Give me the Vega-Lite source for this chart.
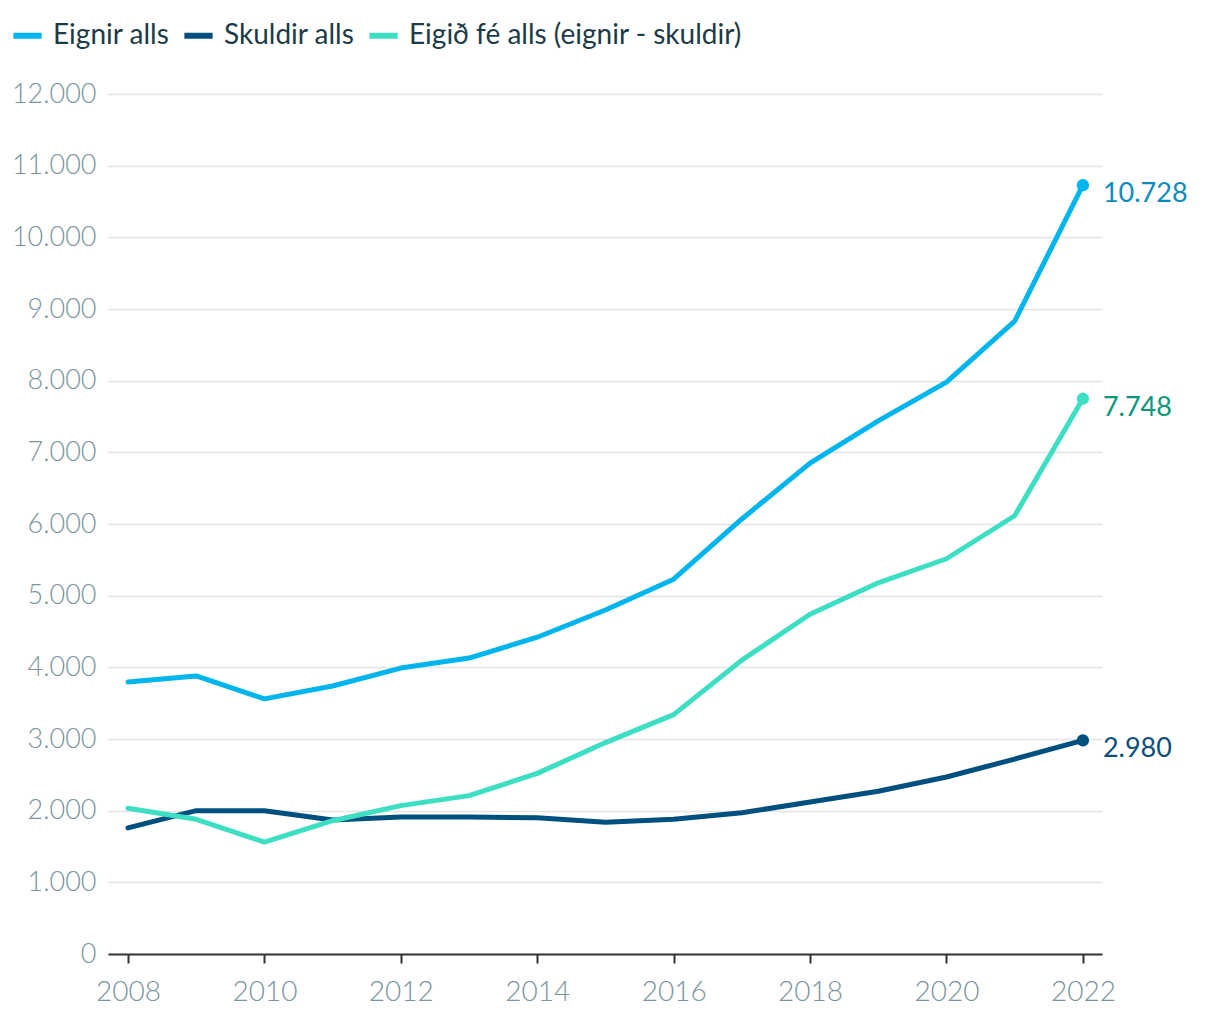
{
  "$schema": "https://vega.github.io/schema/vega-lite/v6.json",
  "width": 994,
  "height": 860,
  "autosize": {"type": "none"},
  "padding": {"left": 108, "top": 94, "right": 118, "bottom": 66},
  "background": "white",
  "config": {
    "locale": {"number": {"decimal": ",", "thousands": ".", "grouping": [3], "currency": ["", " kr."]}},
    "font": "Lato",
    "view": {"stroke": null}
  },
  "data": {
    "values": [
      {"year": 2008, "series": "Eignir alls", "value": 3795},
      {"year": 2009, "series": "Eignir alls", "value": 3880},
      {"year": 2010, "series": "Eignir alls", "value": 3560},
      {"year": 2011, "series": "Eignir alls", "value": 3740},
      {"year": 2012, "series": "Eignir alls", "value": 3990},
      {"year": 2013, "series": "Eignir alls", "value": 4130},
      {"year": 2014, "series": "Eignir alls", "value": 4420},
      {"year": 2015, "series": "Eignir alls", "value": 4800},
      {"year": 2016, "series": "Eignir alls", "value": 5230},
      {"year": 2017, "series": "Eignir alls", "value": 6070},
      {"year": 2018, "series": "Eignir alls", "value": 6850},
      {"year": 2019, "series": "Eignir alls", "value": 7440},
      {"year": 2020, "series": "Eignir alls", "value": 7980},
      {"year": 2021, "series": "Eignir alls", "value": 8830},
      {"year": 2022, "series": "Eignir alls", "value": 10728},
      {"year": 2008, "series": "Skuldir alls", "value": 1760},
      {"year": 2009, "series": "Skuldir alls", "value": 2000},
      {"year": 2010, "series": "Skuldir alls", "value": 2000},
      {"year": 2011, "series": "Skuldir alls", "value": 1870},
      {"year": 2012, "series": "Skuldir alls", "value": 1910},
      {"year": 2013, "series": "Skuldir alls", "value": 1910},
      {"year": 2014, "series": "Skuldir alls", "value": 1900},
      {"year": 2015, "series": "Skuldir alls", "value": 1840},
      {"year": 2016, "series": "Skuldir alls", "value": 1880},
      {"year": 2017, "series": "Skuldir alls", "value": 1970},
      {"year": 2018, "series": "Skuldir alls", "value": 2120},
      {"year": 2019, "series": "Skuldir alls", "value": 2270},
      {"year": 2020, "series": "Skuldir alls", "value": 2470},
      {"year": 2021, "series": "Skuldir alls", "value": 2720},
      {"year": 2022, "series": "Skuldir alls", "value": 2980},
      {"year": 2008, "series": "Eigið fé alls (eignir - skuldir)", "value": 2035},
      {"year": 2009, "series": "Eigið fé alls (eignir - skuldir)", "value": 1880},
      {"year": 2010, "series": "Eigið fé alls (eignir - skuldir)", "value": 1560},
      {"year": 2011, "series": "Eigið fé alls (eignir - skuldir)", "value": 1860},
      {"year": 2012, "series": "Eigið fé alls (eignir - skuldir)", "value": 2070},
      {"year": 2013, "series": "Eigið fé alls (eignir - skuldir)", "value": 2210},
      {"year": 2014, "series": "Eigið fé alls (eignir - skuldir)", "value": 2520},
      {"year": 2015, "series": "Eigið fé alls (eignir - skuldir)", "value": 2950},
      {"year": 2016, "series": "Eigið fé alls (eignir - skuldir)", "value": 3340},
      {"year": 2017, "series": "Eigið fé alls (eignir - skuldir)", "value": 4100},
      {"year": 2018, "series": "Eigið fé alls (eignir - skuldir)", "value": 4740},
      {"year": 2019, "series": "Eigið fé alls (eignir - skuldir)", "value": 5180},
      {"year": 2020, "series": "Eigið fé alls (eignir - skuldir)", "value": 5515},
      {"year": 2021, "series": "Eigið fé alls (eignir - skuldir)", "value": 6115},
      {"year": 2022, "series": "Eigið fé alls (eignir - skuldir)", "value": 7748}
    ]
  },
  "encoding": {
    "x": {
      "field": "year", "type": "quantitative",
      "scale": {"domain": [2007.707, 2022.28], "nice": false, "zero": false},
      "axis": {
        "title": null, "values": [2008, 2010, 2012, 2014, 2016, 2018, 2020, 2022],
        "format": "d", "grid": false,
        "domainColor": "#333333", "domainWidth": 2,
        "tickColor": "#333333", "tickWidth": 2, "tickSize": 9,
        "labelFont": "Lato", "labelFontWeight": 300, "labelFontSize": 28, "labelColor": "#7b959d",
        "labelPadding": 15
      }
    },
    "y": {
      "field": "value", "type": "quantitative",
      "scale": {"domain": [0, 12000], "nice": false},
      "axis": {
        "title": null, "values": [0, 1000, 2000, 3000, 4000, 5000, 6000, 7000, 8000, 9000, 10000, 11000, 12000],
        "format": ",d", "domain": false, "ticks": false,
        "gridColor": "#e4e4e4", "gridWidth": 1.5,
        "labelFont": "Lato", "labelFontWeight": 300, "labelFontSize": 27, "labelColor": "#7b959d",
        "labelPadding": 12
      }
    }
  },
  "layer": [
    {
      "mark": {"type": "line", "strokeWidth": 5, "strokeCap": "round", "strokeJoin": "round"},
      "encoding": {
        "color": {
          "field": "series", "type": "nominal",
          "scale": {
            "domain": ["Eignir alls", "Skuldir alls", "Eigið fé alls (eignir - skuldir)"],
            "range": ["#00b5ee", "#00507f", "#3ddfc3"]
          },
          "legend": {
            "title": null, "orient": "none", "direction": "horizontal",
            "legendX": -98, "legendY": -76,
            "symbolType": "stroke", "symbolStrokeWidth": 6, "symbolSize": 800,
            "labelFont": "Lato", "labelFontSize": 28, "labelColor": "#1c3b47",
            "labelOffset": 8, "columnPadding": 2, "symbolOffset": 0, "labelLimit": 0
          }
        }
      }
    },
    {
      "transform": [{"filter": "datum.year == 2022"}],
      "mark": {"type": "circle", "size": 150, "opacity": 1},
      "encoding": {
        "color": {
          "field": "series", "type": "nominal",
          "scale": {
            "domain": ["Eignir alls", "Skuldir alls", "Eigið fé alls (eignir - skuldir)"],
            "range": ["#00b5ee", "#00507f", "#3ddfc3"]
          },
          "legend": null
        }
      }
    },
    {
      "transform": [{"filter": "datum.year == 2022"}],
      "mark": {"type": "text", "align": "left", "baseline": "middle", "dx": 20, "dy": 9, "fontSize": 27, "font": "Lato"},
      "encoding": {
        "text": {"field": "value", "type": "quantitative", "format": ",d"},
        "color": {
          "field": "series", "type": "nominal",
          "scale": {
            "domain": ["Eignir alls", "Skuldir alls", "Eigið fé alls (eignir - skuldir)"],
            "range": ["#0a8cc1", "#0b4f7d", "#0a977b"]
          },
          "legend": null
        }
      }
    }
  ],
  "resolve": {"scale": {"color": "independent"}}
}
